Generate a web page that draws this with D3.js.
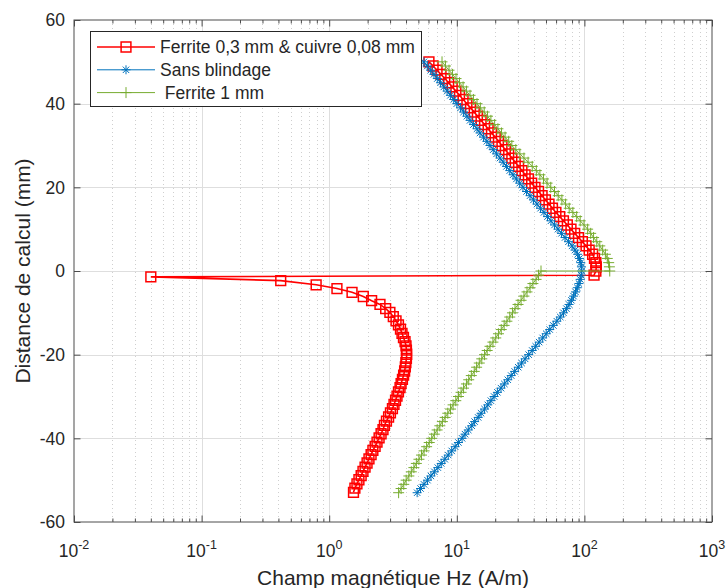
<!DOCTYPE html>
<html><head><meta charset="utf-8">
<script src="https://cdn.jsdelivr.net/npm/d3@7"></script>
<style>
body{margin:0;background:#fff}
svg{display:block}
text{font-family:"Liberation Sans",Arial,Helvetica,sans-serif;fill:#262626;white-space:pre}
</style>
</head><body>
<svg id="chart" width="726" height="588"></svg>
<script>
// ---------- data ----------
const depthUpper = [50,49,48,47,46,45,44,43,42,41,40,39,38,37,36,35,34,33,32,31,30,29,28,27,26,25,24,23,22,21,20,19,18,17,16,15,14,13,12,11,10,9,8,7,6,5,4,3,2,1,0];
const depthLower = [0,-1,-2,-3,-4,-5,-6,-7,-8,-9,-10,-11,-12,-13,-14,-15,-16,-17,-18,-19,-20,-21,-22,-23,-24,-25,-26,-27,-28,-29,-30,-31,-32,-33,-34,-35,-36,-37,-38,-39,-40,-41,-42,-43,-44,-45,-46,-47,-48,-49,-50,-51,-52,-53];
const redLowerDepth = [-1,-1.4,-2.3,-3.3,-4.2,-5.1,-6.1,-7.1,-8.0,-9.0,-9.9,-10.9,-11.9,-12.9,-13.9,-14.9,-15.9,-16.9,-17.9,-18.9,-19.9,-20.9,-21.9,-22.9,-23.9,-24.9,-25.9,-26.9,-27.9,-28.9,-29.9,-30.9,-31.9,-32.9,-33.9,-34.9,-35.9,-36.9,-37.9,-38.9,-39.9,-40.9,-41.9,-42.9,-43.9,-44.9,-45.9,-46.9,-47.9,-48.9,-49.9,-50.9,-51.9,-52.9];

// Ferrite 0,3 mm & cuivre 0,08 mm (A/m)
const redUpper = [6.05,6.52,7.00,7.52,8.05,8.63,9.20,9.84,10.5,11.2,12.0,12.8,13.7,14.5,15.5,16.5,17.6,18.7,20.0,21.2,22.6,24.0,25.5,27.0,28.7,30.5,32.4,34.3,36.4,38.6,41.0,43.7,46.6,49.5,52.8,56.2,59.8,64.1,68.5,73.5,78.5,83.9,89.9,96.4,103,109,116,120,123,124,123];
const redLower = [119,0.040,0.417,0.79,1.15,1.51,1.85,2.15,2.50,2.77,2.99,3.18,3.34,3.49,3.62,3.72,3.82,3.93,4.00,4.03,4.05,4.03,3.99,3.95,3.90,3.83,3.75,3.66,3.59,3.49,3.40,3.31,3.22,3.13,3.02,2.92,2.81,2.71,2.64,2.55,2.46,2.37,2.29,2.20,2.13,2.05,1.98,1.91,1.84,1.78,1.71,1.65,1.59,1.55];

// Sans blindage (A/m)
const blueUpper = [5.53,5.87,6.24,6.62,7.03,7.46,7.91,8.40,8.91,9.46,10.0,10.7,11.3,12.0,12.7,13.5,14.4,15.2,16.2,17.2,18.2,19.3,20.5,21.8,23.1,24.5,26.0,27.6,29.3,31.1,33.0,35.2,37.5,39.9,42.5,45.3,48.2,51.4,54.7,58.3,62.1,66.1,70.5,75.1,80.0,84.4,88.5,91.5,93.6,94.8,95.3];
const blueLower = [94.5,92.8,90.6,88.0,85.2,82.2,79.1,75.8,72.3,68.6,64.7,60.8,57.0,53.5,50.2,47.1,44.2,41.5,39.0,36.6,34.3,32.2,30.3,28.4,26.7,25.1,23.6,22.2,20.8,19.6,18.5,17.5,16.5,15.5,14.7,13.8,13.1,12.3,11.6,11.0,10.3,9.71,9.12,8.57,8.05,7.55,7.10,6.67,6.27,5.89,5.53,5.20,4.89];

// Ferrite 1 mm (A/m)
const greenUpper = [7.66,8.15,8.69,9.25,9.86,10.5,11.2,11.9,12.7,13.5,14.4,15.3,16.4,17.4,18.5,19.8,21.0,22.4,23.9,25.5,27.0,29.0,31.2,33.6,36.2,39.0,42.0,44.8,47.8,51.0,54.5,58.3,62.3,66.6,71.2,76.0,81.2,87.0,92.7,99.3,106,112,118,125,132,139,146,151,155,157,158];
const greenLower = [45.7,43.7,41.8,39.5,37.5,35.5,33.6,31.9,30.2,28.6,27.3,26.0,24.7,23.5,22.3,21.2,20.2,19.2,18.2,17.3,16.5,15.7,15.0,14.3,13.7,13.0,12.4,11.9,11.3,10.8,10.3,9.82,9.35,8.93,8.50,8.10,7.71,7.36,7.01,6.67,6.36,6.08,5.80,5.54,5.29,5.05,4.82,4.61,4.40,4.21,4.01,3.84,3.66,3.50];

const seriesNames = ["Ferrite 0,3 mm & cuivre 0,08 mm", "Sans blindage", " Ferrite 1 mm"];
const xTickExponents = [-2,-1,0,1,2,3];
const yTicks = [-60,-40,-20,0,20,40,60];
const xLabel = "Champ magnétique Hz (A/m)";
const yLabel = "Distance de calcul (mm)";

// ---------- build ----------
const zip = (ds, vs) => ds.map((d, i) => ({y: d, x: vs[i]}));
const series = [
  {name: seriesNames[0], color: "#FF0000", width: 1.6, marker: "square",
   points: zip(depthUpper.concat(redLowerDepth), redUpper.concat(redLower))},
  {name: seriesNames[1], color: "#0072BD", width: 1, marker: "asterisk",
   points: zip(depthUpper.concat(depthLower.slice(1)), blueUpper.concat(blueLower))},
  {name: seriesNames[2], color: "#77AC30", width: 1, marker: "plus",
   points: zip(depthUpper.concat(depthLower), greenUpper.concat(greenLower))}
];

const L = 74, R = 712, T = 20, B = 522;
const svg = d3.select("#chart");
const x = d3.scaleLog().domain([1e-2, 1e3]).range([L, R]);
const y = d3.scaleLinear().domain([-60, 60]).range([B, T]);

const xMajor = xTickExponents.map(e => Math.pow(10, e));
const xMinor = [];
xTickExponents.slice(0, -1).forEach(e => { for (let k = 2; k <= 9; k++) xMinor.push(k * Math.pow(10, e)); });

// grid
const grid = svg.append("g");
grid.selectAll(".minor").data(xMinor).join("line")
  .attr("x1", d => Math.round(x(d)) + 0.5).attr("x2", d => Math.round(x(d)) + 0.5)
  .attr("y1", T).attr("y2", B)
  .attr("stroke", "#cfcfcf").attr("stroke-width", 1).attr("stroke-dasharray", "1,3");
grid.selectAll(".major").data(xMajor.slice(1, -1)).join("line")
  .attr("x1", d => Math.round(x(d)) + 0.5).attr("x2", d => Math.round(x(d)) + 0.5)
  .attr("y1", T).attr("y2", B)
  .attr("stroke", "#dedede").attr("stroke-width", 1);
grid.selectAll(".ymajor").data(yTicks.slice(1, -1)).join("line")
  .attr("y1", d => Math.round(y(d)) + 0.5).attr("y2", d => Math.round(y(d)) + 0.5)
  .attr("x1", L).attr("x2", R)
  .attr("stroke", "#dedede").attr("stroke-width", 1);

// axes (inward ticks)
const axCol = "#4d4d4d";
function styleAxis(g) {
  g.select(".domain").remove();
  g.selectAll("line").attr("stroke", axCol);
  g.selectAll("text").remove();
}
svg.append("g").attr("transform", `translate(0,${B})`)
  .call(d3.axisBottom(x).tickValues(xMinor).tickSize(-3.5)).call(styleAxis);
svg.append("g").attr("transform", `translate(0,${B})`)
  .call(d3.axisBottom(x).tickValues(xMajor).tickSize(-6.5)).call(styleAxis);
svg.append("g").attr("transform", `translate(0,${T})`)
  .call(d3.axisTop(x).tickValues(xMinor).tickSize(-3.5)).call(styleAxis);
svg.append("g").attr("transform", `translate(0,${T})`)
  .call(d3.axisTop(x).tickValues(xMajor).tickSize(-6.5)).call(styleAxis);
svg.append("g").attr("transform", `translate(${L},0)`)
  .call(d3.axisLeft(y).tickValues(yTicks).tickSize(-6.5)).call(styleAxis);
svg.append("g").attr("transform", `translate(${R},0)`)
  .call(d3.axisRight(y).tickValues(yTicks).tickSize(-6.5)).call(styleAxis);

// data
const line = d3.line().x(d => x(d.x)).y(d => y(d.y));
const markerPath = {
  square: d3.symbol(d3.symbolSquare, 96)(),
  asterisk: "M-4.5,0H4.5M0,-4.5V4.5M-3.2,-3.2L3.2,3.2M-3.2,3.2L3.2,-3.2",
  plus: "M-5.5,0H5.5M0,-5.5V5.5"
};
const plot = svg.append("g");
series.forEach(s => {
  const g = plot.append("g");
  g.append("path").datum(s.points).attr("d", line)
    .attr("fill", "none").attr("stroke", s.color).attr("stroke-width", s.width);
  g.selectAll(".m").data(s.points).join("path")
    .attr("transform", d => `translate(${x(d.x)},${y(d.y)})`)
    .attr("d", markerPath[s.marker])
    .attr("fill", "none").attr("stroke", s.color).attr("stroke-width", s.marker === "square" ? 1.5 : 1);
});

// box
svg.append("rect").attr("x", L).attr("y", T).attr("width", R - L).attr("height", B - T)
  .attr("fill", "none").attr("stroke", axCol).attr("stroke-width", 1);

// tick labels
svg.selectAll(".ylab").data(yTicks).join("text")
  .attr("x", L - 9).attr("y", d => y(d)).attr("dy", "0.36em")
  .attr("text-anchor", "end").attr("font-size", 17.5).text(d => d);
const xl = svg.selectAll(".xlab").data(xTickExponents).join("text")
  .attr("x", d => x(Math.pow(10, d))).attr("y", 557)
  .attr("text-anchor", "middle").attr("font-size", 17.5);
xl.append("tspan").text("10");
xl.append("tspan").attr("dy", -8).attr("font-size", 12.5).text(d => d);

// axis titles
svg.append("text").attr("x", (L + R) / 2).attr("y", 585).attr("text-anchor", "middle")
  .attr("font-size", 21).text(xLabel);
svg.append("text").attr("transform", `translate(30,${(T + B) / 2}) rotate(-90)`)
  .attr("text-anchor", "middle").attr("font-size", 21).text(yLabel);

// legend
const lg = svg.append("g");
lg.append("rect").attr("x", 90.5).attr("y", 31.5).attr("width", 331).attr("height", 75)
  .attr("fill", "#fff").attr("stroke", "#262626").attr("stroke-width", 1);
series.forEach((s, i) => {
  const cy = 47 + i * 22.8;
  lg.append("line").attr("x1", 97).attr("x2", 155).attr("y1", cy).attr("y2", cy)
    .attr("stroke", s.color).attr("stroke-width", s.width);
  lg.append("path").attr("transform", `translate(126,${cy})`).attr("d", markerPath[s.marker])
    .attr("fill", "none").attr("stroke", s.color).attr("stroke-width", s.marker === "square" ? 1.5 : 1);
  lg.append("text").attr("x", 160).attr("y", cy).attr("dy", "0.36em")
    .attr("font-size", 17.5).text(s.name);
});
</script>
</body></html>
